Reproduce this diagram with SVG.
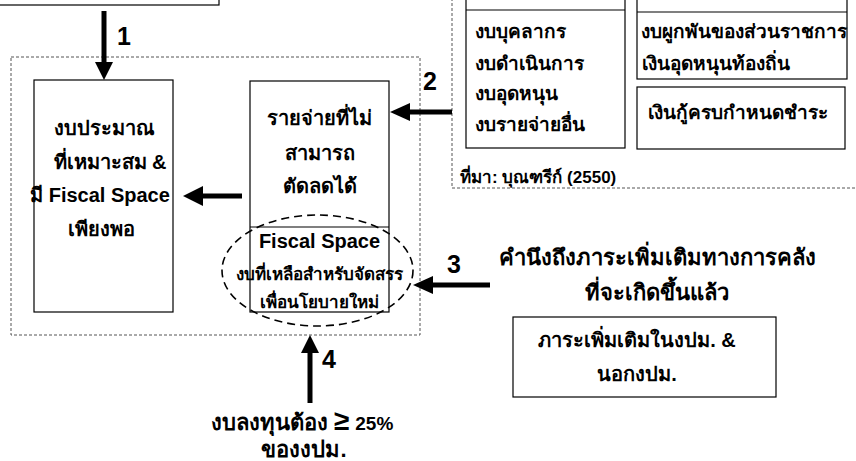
<svg xmlns="http://www.w3.org/2000/svg" width="856" height="461" viewBox="0 0 856 461">
<style>
text{font-family:"Liberation Sans","Noto Sans",Tahoma,sans-serif;font-weight:bold;fill:#000}
.box{fill:#fff;stroke:#000;stroke-width:1.2}
.dash{fill:none;stroke:#555;stroke-width:1;stroke-dasharray:3,2}
.c{text-anchor:middle}
.t20{font-size:20px}
.t22{font-size:22px}
.t19{font-size:19px}
.t17{font-size:17px}
.num{font-size:25px}
.ln{stroke:#000;stroke-width:5;fill:none}
</style>

<g id="source-box">
<rect class="box" x="-5" y="-20" width="224" height="25"/>
</g>

<g id="right-panel">
<rect class="dash" x="452" y="-10" width="420" height="198"/>
<g id="box-a">
<rect class="box" x="466" y="-20" width="159" height="168"/>
<line x1="466" y1="10" x2="625" y2="10" stroke="#000" stroke-width="1.2"/>
<text class="t19" x="475" y="38">งบบุคลากร</text>
<text class="t19" x="475" y="70">งบดำเนินการ</text>
<text class="t19" x="475" y="100">งบอุดหนุน</text>
<text class="t19" x="475" y="131">งบรายจ่ายอื่น</text>
</g>
<g id="box-b">
<rect class="box" x="637" y="-20" width="210" height="99"/>
<line x1="637" y1="12" x2="847" y2="12" stroke="#000" stroke-width="1.2"/>
<text class="t19" x="641" y="38">งบผูกพันของส่วนราชการ</text>
<text class="t19" x="642" y="70">เงินอุดหนุนท้องถิ่น</text>
</g>
<g id="box-c">
<rect class="box" x="637" y="87" width="208" height="62"/>
<text class="t19 c" x="738" y="119">เงินกู้ครบกำหนดชำระ</text>
</g>
<text class="t17" x="460" y="183">ที่มา: บุณฑรีก์ (2550)</text>
</g>

<g id="main-region">
<rect class="dash" x="11" y="57" width="409" height="278"/>
</g>

<g id="budget-box">
<rect class="box" x="34" y="80" width="139" height="232"/>
<text class="t20 c" x="104" y="135">งบประมาณ</text>
<text class="t20 c" x="110" y="169">ที่เหมาะสม &amp;</text>
<text class="t20 c" x="100" y="202">มี Fiscal Space</text>
<text class="t20 c" x="101" y="236">เพียงพอ</text>
</g>

<g id="expense-box">
<rect class="box" x="250" y="81" width="139" height="231"/>
<line x1="250" y1="227" x2="389" y2="227" stroke="#000" stroke-width="1.2"/>
<text class="t20 c" x="319.5" y="125">รายจ่ายที่ไม่</text>
<text class="t20 c" x="319.5" y="160">สามารถ</text>
<text class="t20 c" x="319.5" y="193">ตัดลดได้</text>
<text class="t20 c" x="319.5" y="248">Fiscal Space</text>
<text class="t17 c" x="319.5" y="280">งบที่เหลือสำหรับจัดสรร</text>
<text class="t17 c" x="319.5" y="308">เพื่อนโยบายใหม่</text>
</g>

<g id="fiscal-ellipse">
<ellipse cx="317.5" cy="270.5" rx="95.5" ry="55.5" fill="none" stroke="#000" stroke-width="1.6" stroke-dasharray="8,5"/>
</g>

<g id="fiscal-burden">
<text class="t22 c" x="657" y="265">คำนึงถึงภาระเพิ่มเติมทางการคลัง</text>
<text class="t22 c" x="657" y="300">ที่จะเกิดขึ้นแล้ว</text>
<rect class="box" x="513" y="317" width="263" height="80"/>
<text class="t20 c" x="637" y="347">ภาระเพิ่มเติมในงปม. &amp;</text>
<text class="t20 c" x="637" y="381">นอกงปม.</text>
</g>

<g id="investment">
<text class="t22 c" x="302" y="430">งบลงทุนต้อง <tspan font-size="28">≥</tspan> <tspan font-size="19">25%</tspan></text>
<text class="t22 c" x="304" y="457">ของงปม.</text>
</g>

<g id="connectors">
<line class="ln" x1="104" y1="11" x2="104" y2="64"/>
<polygon points="95,62 113,62 104,80"/>
<text class="num" x="117" y="45">1</text>

<line class="ln" x1="242" y1="196" x2="201" y2="196"/>
<polygon points="203,186 203,206 183,196"/>

<line class="ln" x1="452" y1="112" x2="408" y2="112"/>
<polygon points="410,103 410,121 390,112"/>
<text class="num" x="423" y="90">2</text>

<line class="ln" x1="490" y1="285" x2="431" y2="285"/>
<polygon points="433,276 433,294 413,285"/>
<text class="num" x="447" y="273">3</text>

<line class="ln" x1="310" y1="403" x2="310" y2="351"/>
<polygon points="301,353 319,353 310,335"/>
<text class="num" x="322" y="368">4</text>
</g>
</svg>
